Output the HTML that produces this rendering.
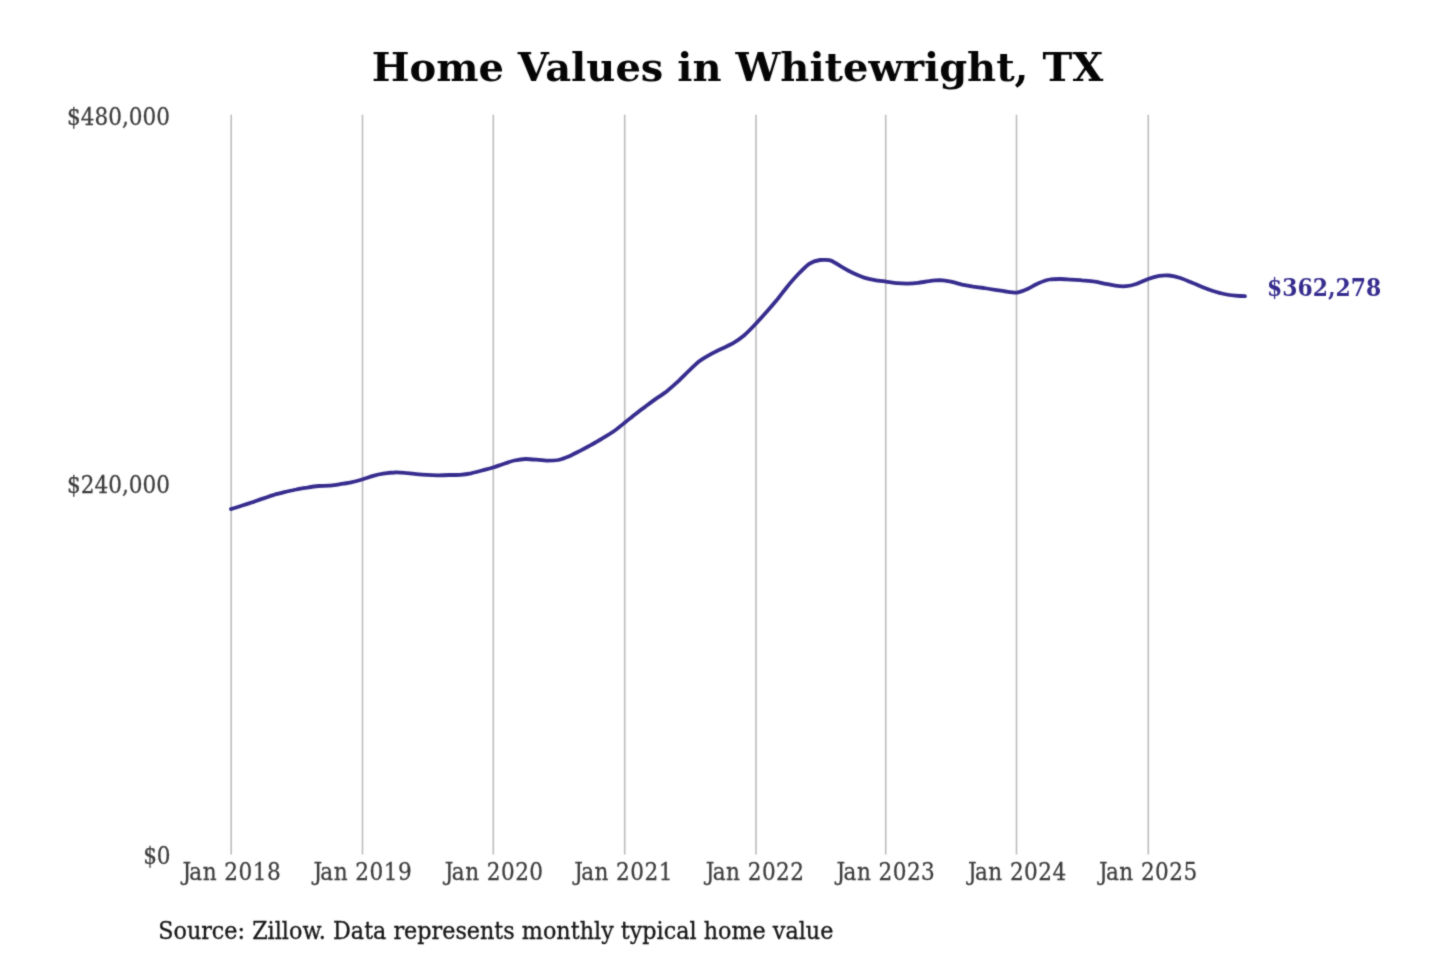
<!DOCTYPE html>
<html><head><meta charset="utf-8"><title>Home Values in Whitewright, TX</title>
<style>
html,body{margin:0;padding:0;background:#fff;}
body{width:1440px;height:960px;overflow:hidden;}
svg{display:block;font-family:"DejaVu Serif","Liberation Serif",serif;}
.grid line{stroke:#bcbcbc;stroke-width:1.6;}
.ax text{fill:#3c3c3c;stroke:#3c3c3c;stroke-width:0.25px;font-size:21.6px;}
</style></head>
<body>
<svg width="1440" height="960" viewBox="0 0 1440 960">
<defs><filter id="soft" x="0" y="0" width="1440" height="960" filterUnits="userSpaceOnUse" color-interpolation-filters="sRGB"><feConvolveMatrix order="3" kernelMatrix="0.035 0.09 0.035 0.09 0.5 0.09 0.035 0.09 0.035" divisor="1" edgeMode="duplicate" preserveAlpha="true"/></filter></defs>
<g filter="url(#soft)">
<rect width="1440" height="960" fill="#ffffff"/>
<text transform="translate(737.5,81.3) scale(1,0.96)" text-anchor="middle" font-size="40" font-weight="bold" fill="#050505">Home Values in Whitewright, TX</text>
<g class="grid">
<line x1="231.2" y1="114.7" x2="231.2" y2="854.4" />
<line x1="362.5" y1="114.7" x2="362.5" y2="854.4" />
<line x1="493.3" y1="114.7" x2="493.3" y2="854.4" />
<line x1="624.7" y1="114.7" x2="624.7" y2="854.4" />
<line x1="756" y1="114.7" x2="756" y2="854.4" />
<line x1="885.7" y1="114.7" x2="885.7" y2="854.4" />
<line x1="1016.5" y1="114.7" x2="1016.5" y2="854.4" />
<line x1="1148.3" y1="114.7" x2="1148.3" y2="854.4" />
</g>
<g class="ax">
<text transform="translate(170,125) scale(1,1.09)" text-anchor="end">$480,000</text>
<text transform="translate(170,493.3) scale(1,1.09)" text-anchor="end">$240,000</text>
<text transform="translate(170.6,863.6) scale(1,1.09)" text-anchor="end">$0</text>
<text transform="translate(182.40,879.6) scale(1,1.09)" dx="0 -1.7 0.45 0.85 0 0.45 0.45 0.45">Jan 2018</text>
<text transform="translate(313.40,879.6) scale(1,1.09)" dx="0 -1.7 0.45 0.85 0 0.45 0.45 0.45">Jan 2019</text>
<text transform="translate(444.85,879.6) scale(1,1.09)" dx="0 -1.7 0.45 0.85 0 0.45 0.45 0.45">Jan 2020</text>
<text transform="translate(574.20,879.6) scale(1,1.09)" dx="0 -1.7 0.45 0.85 0 0.45 0.45 0.45">Jan 2021</text>
<text transform="translate(705.80,879.6) scale(1,1.09)" dx="0 -1.7 0.45 0.85 0 0.45 0.45 0.45">Jan 2022</text>
<text transform="translate(836.60,879.6) scale(1,1.09)" dx="0 -1.7 0.45 0.85 0 0.45 0.45 0.45">Jan 2023</text>
<text transform="translate(968.00,879.6) scale(1,1.09)" dx="0 -1.7 0.45 0.85 0 0.45 0.45 0.45">Jan 2024</text>
<text transform="translate(1099.00,879.6) scale(1,1.09)" dx="0 -1.7 0.45 0.85 0 0.45 0.45 0.45">Jan 2025</text>
</g>
<path d="M230.9,509.1 C232.0,508.8 240.2,506.2 242.3,505.5 C244.5,504.8 250.2,502.9 252.4,502.2 C254.5,501.5 261.3,499.1 263.5,498.4 C265.7,497.6 272.0,495.4 274.2,494.8 C276.4,494.1 283.2,492.4 285.3,491.9 C287.5,491.4 293.9,489.9 296.1,489.5 C298.3,489.0 305.0,488.0 307.2,487.7 C309.4,487.3 316.1,486.2 318.3,486.0 C320.5,485.8 326.9,485.9 329.1,485.7 C331.3,485.5 338.0,484.5 340.2,484.2 C342.4,483.8 348.8,482.8 351.0,482.3 C353.2,481.8 359.9,480.2 362.1,479.5 C364.3,478.9 371.1,476.4 373.2,475.8 C375.3,475.2 381.1,473.9 383.2,473.6 C385.4,473.3 392.2,472.5 394.4,472.5 C396.5,472.4 402.9,472.7 405.1,472.9 C407.3,473.0 414.0,473.9 416.2,474.1 C418.4,474.3 424.8,474.8 427.0,474.9 C429.2,475.1 435.9,475.3 438.1,475.3 C440.3,475.3 447.0,475.1 449.2,475.0 C451.4,475.0 457.8,475.0 460.0,474.8 C462.2,474.6 468.9,473.7 471.1,473.3 C473.3,472.8 479.7,471.1 481.9,470.5 C484.0,469.9 490.7,468.2 493.0,467.5 C495.2,466.8 501.9,464.4 504.1,463.7 C506.2,463.0 512.3,461.0 514.5,460.5 C516.6,460.1 523.4,459.1 525.6,459.0 C527.8,458.9 534.2,459.5 536.4,459.7 C538.5,459.9 545.3,460.7 547.5,460.7 C549.7,460.7 556.0,460.4 558.2,460.0 C560.4,459.5 567.1,457.1 569.3,456.2 C571.6,455.2 578.3,451.7 580.5,450.6 C582.6,449.5 589.0,446.1 591.2,444.9 C593.4,443.6 600.1,439.8 602.3,438.4 C604.5,437.1 610.9,433.3 613.1,431.8 C615.3,430.2 622.0,424.9 624.2,423.1 C626.4,421.4 633.2,415.8 635.3,414.2 C637.4,412.5 643.2,408.1 645.4,406.6 C647.5,405.0 654.3,400.0 656.5,398.4 C658.7,396.9 665.1,392.6 667.2,390.9 C669.4,389.2 676.2,383.2 678.4,381.2 C680.5,379.2 686.9,372.6 689.1,370.6 C691.3,368.5 698.0,362.3 700.2,360.6 C702.5,359.0 709.2,355.1 711.3,353.9 C713.5,352.7 719.9,349.5 722.1,348.5 C724.3,347.4 731.0,344.6 733.2,343.2 C735.4,341.9 741.8,337.3 744.0,335.5 C746.2,333.6 752.9,326.8 755.1,324.5 C757.3,322.2 764.1,314.7 766.2,312.3 C768.3,309.9 774.1,303.4 776.2,300.8 C778.4,298.2 785.2,289.0 787.4,286.4 C789.6,283.8 795.9,276.6 798.1,274.3 C800.3,272.0 807.1,265.2 809.2,263.8 C811.4,262.4 817.8,260.3 820.0,260.0 C822.2,259.7 828.9,259.8 831.1,260.6 C833.3,261.3 840.0,266.0 842.2,267.2 C844.4,268.5 850.8,272.1 853.0,273.1 C855.2,274.1 861.9,276.9 864.1,277.6 C866.3,278.3 872.7,279.7 874.9,280.1 C877.0,280.5 883.8,281.3 886.0,281.6 C888.2,281.9 895.0,283.0 897.1,283.2 C899.2,283.4 905.0,283.6 907.1,283.6 C909.2,283.5 916.1,283.0 918.2,282.8 C920.4,282.6 926.8,281.4 929.0,281.2 C931.2,280.9 937.9,280.2 940.1,280.2 C942.3,280.3 948.7,281.2 950.9,281.6 C953.1,282.0 959.8,284.1 962.0,284.6 C964.2,285.0 970.9,286.2 973.1,286.6 C975.3,286.9 981.7,287.7 983.9,288.0 C986.1,288.4 992.8,289.5 995.0,289.8 C997.2,290.1 1003.6,291.2 1005.7,291.5 C1007.9,291.8 1014.6,292.8 1016.9,292.6 C1019.1,292.3 1025.8,289.7 1028.0,288.7 C1030.1,287.8 1036.2,284.2 1038.4,283.3 C1040.5,282.4 1047.3,279.9 1049.5,279.5 C1051.7,279.0 1058.1,279.0 1060.2,279.0 C1062.4,279.0 1069.2,279.6 1071.4,279.7 C1073.6,279.8 1079.9,280.1 1082.1,280.3 C1084.3,280.4 1091.0,281.0 1093.2,281.4 C1095.5,281.7 1102.2,283.1 1104.4,283.6 C1106.5,284.0 1112.9,285.4 1115.1,285.7 C1117.3,286.0 1124.0,286.4 1126.2,286.2 C1128.4,286.0 1134.8,284.4 1137.0,283.7 C1139.2,283.0 1145.9,279.8 1148.1,279.0 C1150.3,278.2 1157.1,276.2 1159.2,275.8 C1161.3,275.5 1167.1,275.3 1169.3,275.5 C1171.4,275.7 1178.2,277.3 1180.4,278.0 C1182.6,278.7 1188.9,281.4 1191.1,282.3 C1193.3,283.2 1200.1,286.2 1202.2,287.1 C1204.4,288.0 1210.8,290.3 1213.0,291.0 C1215.2,291.7 1221.9,293.6 1224.1,294.0 C1226.3,294.5 1233.1,295.5 1235.2,295.7 C1237.3,295.9 1244.0,296.2 1245.0,296.2" fill="none" stroke="#362c8e" stroke-width="3.8" stroke-linecap="round" stroke-linejoin="round"/>
<text transform="translate(1267,296.2) scale(1,1.09)" font-size="21.9" font-weight="bold" fill="#362c8e">$362,278</text>
<text transform="translate(158.2,939) scale(1,1.08)" font-size="22.3" fill="#161616" stroke="#161616" stroke-width="0.3">Source: Zillow. Data represents monthly typical home value</text>
</g>
</svg>
</body></html>
